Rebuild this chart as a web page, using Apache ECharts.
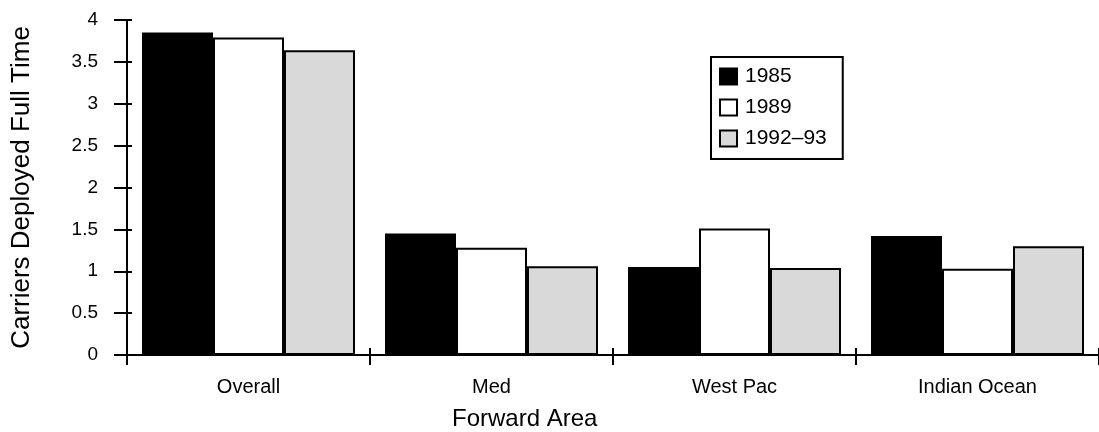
<!DOCTYPE html>
<html>
<head>
<meta charset="utf-8">
<script src="https://cdn.jsdelivr.net/npm/echarts@6/dist/echarts.min.js"></script>
<style>html,body{margin:0;padding:0;background:#fff;}#c{width:1099px;height:432px;}</style>
</head>
<body>
<div id="c"></div>
<script>
const categories = ['Overall', 'Med', 'West Pac', 'Indian Ocean'];
const seriesNames = ['1985', '1989', '1992\u201393'];
const v1985 = [3.85, 1.45, 1.05, 1.42];
const v1989 = [3.79, 1.28, 1.51, 1.03];
const v1992 = [3.64, 1.06, 1.04, 1.30];
const yTicks = [0, 0.5, 1, 1.5, 2, 2.5, 3, 3.5, 4];

const FONT = 'Liberation Sans, Arial, Helvetica, sans-serif';
const chart = echarts.init(document.getElementById('c'), null, {renderer: 'canvas'});
const fills = ['#000000', '#ffffff', '#d9d9d9'];
const values = [v1985, v1989, v1992];

chart.setOption({
  animation: false,
  backgroundColor: '#fff',
  textStyle: {fontFamily: FONT, color: '#000'},
  grid: {left: 127, top: 20, width: 975, bottom: 77, containLabel: false},
  legend: {
    orient: 'vertical', left: 711, top: 57,
    padding: [9, 16, 10, 8],
    icon: 'rect',
    itemWidth: 17, itemHeight: 16, itemGap: 10,
    borderColor: '#000', borderWidth: 2,
    textStyle: {fontFamily: FONT, fontSize: 21, color: '#000', padding: [0, 0, 0, 3]},
    data: seriesNames,
    itemStyle: {borderColor: '#000', borderWidth: 2}
  },
  graphic: [{
    type: 'text', left: 452, top: 407,
    style: {text: 'Forward Area', font: '24px ' + FONT, fill: '#000'}
  }],
  xAxis: [{
    type: 'category', data: categories, position: 'bottom',
    axisLine: {lineStyle: {color: '#000', width: 2}},
    axisTick: {show: false},
    axisLabel: {fontFamily: FONT, fontSize: 20, color: '#000', margin: 22}
  }, {
    type: 'category', data: categories, position: 'bottom', offset: -7,
    axisLine: {show: false},
    axisTick: {show: true, length: 17, lineStyle: {color: '#000', width: 2}},
    axisLabel: {show: false}
  }],
  yAxis: [{
    type: 'value', min: 0, max: 4, interval: 0.5,
    name: 'Carriers Deployed Full Time', nameLocation: 'middle', nameGap: 92,
    nameTextStyle: {fontFamily: FONT, fontSize: 26, color: '#000'},
    axisLine: {show: true, lineStyle: {color: '#000', width: 2}},
    axisTick: {show: false},
    axisLabel: {fontFamily: FONT, fontSize: 19, color: '#000', margin: 29,
      formatter: v => yTicks.includes(v) ? String(v) : ''},
    splitLine: {show: false}
  }, {
    type: 'value', min: 0, max: 4, interval: 0.5, position: 'left', offset: -5,
    axisLine: {show: false},
    axisTick: {show: true, length: 18, lineStyle: {color: '#000', width: 2}},
    axisLabel: {show: false},
    splitLine: {show: false}
  }],
  series: seriesNames.map((n, i) => ({
    name: n, type: 'bar', data: values[i],
    xAxisIndex: 0, yAxisIndex: 0,
    barWidth: 71, barGap: '0%',
    itemStyle: {color: fills[i], borderColor: '#000', borderWidth: 2}
  }))
});
</script>
</body>
</html>
